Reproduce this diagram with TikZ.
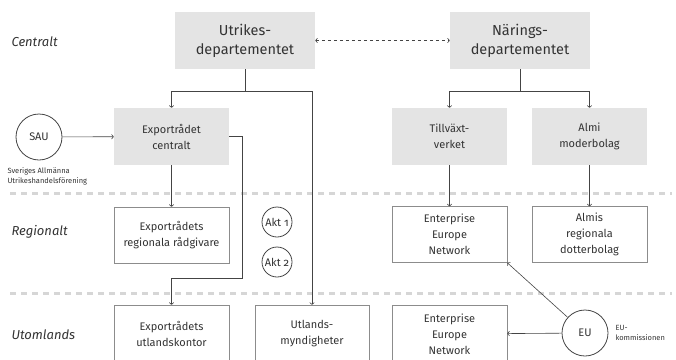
\documentclass[tikz,border=0pt]{standalone}
\usepackage{fontspec}
\setmainfont{Fira Sans}[Numbers=OldStyle]
\usetikzlibrary{arrows.meta}
\definecolor{boxgray}{HTML}{E4E4E4}
\definecolor{linegray}{HTML}{444444}
\definecolor{sepgray}{HTML}{D6D6D6}
\begin{document}
\begin{tikzpicture}[x=1pt,y=-1pt,
    font=\fontsize{11}{16}\selectfont, text=black!80,
    dept/.style={fill=boxgray, minimum width=140pt, minimum height=57pt, align=center,
      font=\fontsize{14.5}{19}\selectfont},
    actor/.style={fill=boxgray, minimum width=115pt, minimum height=57pt, align=center},
    unit/.style={draw=black!45, minimum width=115pt, minimum height=56pt, align=center},
    org/.style={circle, draw=linegray, thick, minimum size=46pt, inner sep=0pt},
    akt/.style={circle, draw=linegray, thick, minimum size=30pt, inner sep=0pt},
    level/.style={anchor=west, font=\fontsize{13}{15}\selectfont\itshape},
    note/.style={align=left, font=\fontsize{7.5}{10.5}\selectfont},
    sep/.style={sepgray, line width=3pt, dash pattern=on 6pt off 5pt},
    link/.style={linegray, semithick},
    arr/.style={link, -{To[length=2.5pt,width=5pt]}}]
    \useasboundingbox (0,0) rectangle (676,359);
    \clip (0,0) rectangle (676,359);
    % Levels
    \node[level] (lc) at (8,42) {Centralt};
    \node[level] (lr) at (8,232) {Regionalt};
    \node[level] (lu) at (8,335) {Utomlands};
    \draw[sep] (10,193) -- (672,193);
    \draw[sep] (10,293) -- (672,293);
    % Ministries
    \node[dept] (ud) at (245,40.5) {Utrikes-\\departementet};
    \node[dept] (nd) at (520,40.5) {Närings-\\departementet};
    \draw[link, dashed, {To[length=2.5pt,width=5pt]}-{To[length=2.5pt,width=5pt]}] (ud) -- (nd);
    % Central actors
    \node[actor] (ec) at (171.5,136.5) {Exportrådet\\centralt};
    \node[actor] (tv) at (449.5,136.5) {Tillväxt-\\verket};
    \node[actor] (am) at (589.5,136.5) {Almi\\moderbolag};
    \node[org] (sau) at (39,137) {SAU};
    \node[note, anchor=north west] (saul) at (4,164) {Sveriges Allmänna\\Utrikeshandelsförening};
    % Regional units
    \node[unit] (er) at (171.5,235) {Exportrådets\\regionala rådgivare};
    \node[unit] (eenr) at (449.5,234.5) {Enterprise\\Europe\\Network};
    \node[unit] (ad) at (589.5,234.5) {Almis\\regionala\\dotterbolag};
    \node[akt] (akt1) at (277,222) {Akt 1};
    \node[akt] (akt2) at (277,262) {Akt 2};
    % Units abroad
    \node[unit, minimum height=58pt] (ek) at (171.5,334) {Exportrådets\\utlandskontor};
    \node[unit, minimum width=114pt, minimum height=58pt] (um) at (312,334) {Utlands-\\myndigheter};
    \node[unit, minimum height=58pt] (eenu) at (449.5,334) {Enterprise\\Europe\\Network};
    \node[org] (eu) at (585,333) {EU};
    \node[note, anchor=west] (eul) at (612,333) {EU-\\kommissionen};
    % Connectors
    \draw[link] (ud.south) -- (ud.south |- 0,91) coordinate (udj);
    \draw[arr] (udj) -| (ec.north);
    \draw[arr] (udj) -| (um.north);
    \draw[link] (nd.south) -- (nd.south |- 0,91) coordinate (ndj);
    \draw[arr] (ndj) -| (tv.north);
    \draw[arr] (ndj) -| (am.north);
    \draw[arr] (sau) -- (ec);
    \draw[arr] (ec) -- (er);
    \draw[arr] (ec.east) -- (242,136.5) -- (242,278) -| (ek.north);
    \draw[arr] (tv) -- (eenr);
    \draw[arr] (am) -- (ad);
    \draw[arr] (eu) -- (eenu);
    \draw[arr] (eu) -- (eenr.south east);
\end{tikzpicture}
\end{document}
